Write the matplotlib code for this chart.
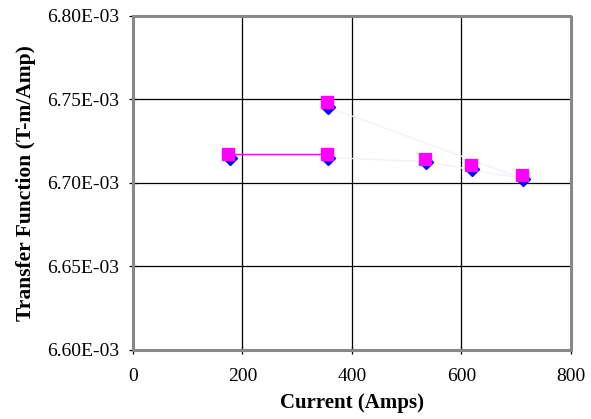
import matplotlib
matplotlib.use("Agg")
import matplotlib.pyplot as plt

# Data
current_blue = [177, 357, 357, 536, 620, 713]
tf_blue = [6.7147e-3, 6.7452e-3, 6.7152e-3, 6.7127e-3, 6.7082e-3, 6.7024e-3]
current_pink = [174, 354, 354, 533, 617, 710]
tf_pink = [6.7171e-3, 6.7486e-3, 6.7171e-3, 6.7141e-3, 6.7108e-3, 6.7049e-3]

x_ticks = [0, 200, 400, 600, 800]
y_ticks = [6.60e-3, 6.65e-3, 6.70e-3, 6.75e-3, 6.80e-3]
y_ticklabels = ["6.60E-03", "6.65E-03", "6.70E-03", "6.75E-03", "6.80E-03"]

plt.rcParams['font.family'] = ['Liberation Serif', 'DejaVu Serif']

fig = plt.figure(figsize=(5.91, 4.19), dpi=100)
ax = fig.add_axes([0.225, 0.165, 0.741, 0.797])

ax.set_xlim(0, 800)
ax.set_ylim(6.60e-3, 6.80e-3)
ax.set_xticks(x_ticks)
ax.set_yticks(y_ticks)
ax.set_yticklabels(y_ticklabels)
ax.grid(True, color='black', linewidth=0.9)
ax.set_axisbelow(True)

# faint connecting lines
ax.plot([current_blue[1], current_blue[5]], [tf_blue[1], tf_blue[5]], color='#f2f2f8', lw=1, zorder=2)
ax.plot([current_blue[2], current_blue[3], current_blue[5]], [tf_blue[2], tf_blue[3], tf_blue[5]], color='#f2f2f8', lw=1, zorder=2)
# magenta segment between first two points
ax.plot([current_pink[0], current_pink[2]], [tf_pink[0], tf_pink[2]], color='#ff00ff', lw=1, zorder=3)

ax.plot(current_blue, tf_blue, linestyle='none', marker='D', color='#0000ff', markersize=7.5, zorder=4)
ax.plot(current_pink, tf_pink, linestyle='none', marker='s', color='#ff00ff', markersize=8, zorder=5)

for s in ax.spines.values():
    s.set_color('#888888')
    s.set_linewidth(2.2)
    s.set_linestyle((0, (1, 1)))

ax.tick_params(direction='inout', length=6, width=0.9, labelsize=14, color='black')
ax.tick_params(axis='x', pad=10)
ax.tick_params(axis='y', pad=7)
ax.set_xlabel('Current (Amps)', fontsize=15, fontweight='bold', labelpad=6)
ax.set_ylabel('Transfer Function (T-m/Amp)', fontsize=15.5, fontweight='bold', labelpad=8)

fig.savefig('out.png', dpi=100)
